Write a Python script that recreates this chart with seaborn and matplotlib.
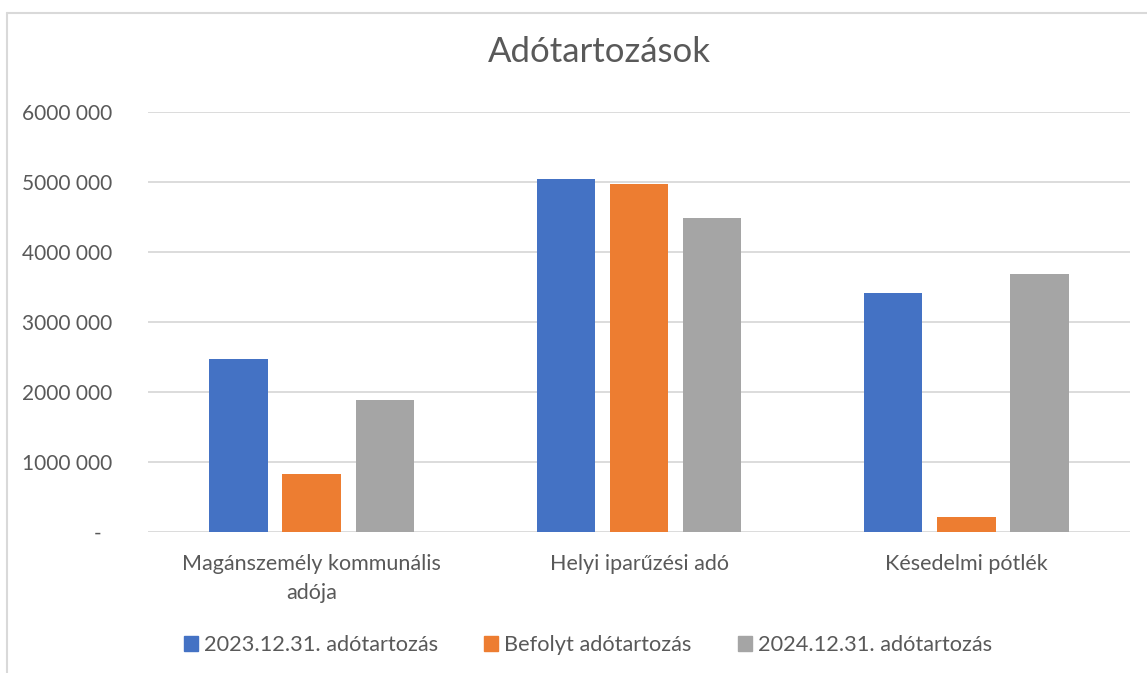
import pandas as pd
import seaborn as sns
import matplotlib.pyplot as plt
from matplotlib.lines import Line2D

# --- data ---
categories = ["Magánszemély kommunális\nadója", "Helyi iparűzési adó", "Késedelmi pótlék"]
series = ["2023.12.31. adótartozás", "Befolyt adótartozás", "2024.12.31. adótartozás"]
debt_2023 = [2465000, 5047000, 3410000]
collected = [830000, 4976000, 210000]
debt_2024 = [1886000, 4490000, 3680000]
y_ticks = [0, 1000000, 2000000, 3000000, 4000000, 5000000, 6000000]
y_tick_labels = ["-  ", "1000 000", "2000 000", "3000 000", "4000 000", "5000 000", "6000 000"]

colors = ["#4472C4", "#ED7D31", "#A5A5A5"]
text_col = "#595959"
grid_col = "#D9D9D9"

rows = []
for s, vals in zip(series, [debt_2023, collected, debt_2024]):
    for c, v in zip(categories, vals):
        rows.append({"Kategória": c, "Sorozat": s, "Érték": v})
df = pd.DataFrame(rows)

sns.set_theme(style="white")
plt.rcParams['font.family'] = ['Lato', 'DejaVu Sans']

fig = plt.figure(figsize=(11.47, 6.73), dpi=100)
ax = fig.add_axes([148 / 1147, 1 - 532 / 673, (1130 - 148) / 1147, (532 - 112) / 673])

sns.barplot(data=df, x="Kategória", y="Érték", hue="Sorozat", order=categories,
            hue_order=series, palette=colors, saturation=1, width=0.67, gap=0.2,
            edgecolor="none", ax=ax, legend=False, zorder=3)

ax.set_xlim(-0.5, 2.5)
ax.set_ylim(0, 6000000)
ax.set_yticks(y_ticks)
ax.set_yticklabels(y_tick_labels, fontsize=15, color=text_col)
ax.tick_params(axis='x', labelsize=15.5, colors=text_col, length=0, pad=16)
ax.tick_params(axis='y', length=0, pad=26)
for lbl in ax.get_xticklabels():
    lbl.set_linespacing(1.55)
ax.set_xlabel("")
ax.set_ylabel("")
ax.yaxis.grid(True, color=grid_col, linewidth=1.3, zorder=0)
ax.set_axisbelow(True)
for sp in ax.spines.values():
    sp.set_visible(False)

fig.text(599 / 1147, 1 - 52 / 673, "Adótartozások", ha="center", va="center",
         fontsize=25, color=text_col)

handles = [plt.Rectangle((0, 0), 1, 1, color=c) for c in colors]
fig.legend(handles, series, loc="center", bbox_to_anchor=(588 / 1147, 1 - 645 / 673),
           ncol=3, frameon=False, fontsize=15.7, labelcolor=text_col,
           handlelength=0.65, handleheight=0.65, handletextpad=0.28, columnspacing=2.1)

# chart frame
fig.add_artist(Line2D([7 / 1147, 1], [1 - 13 / 673, 1 - 13 / 673], color=grid_col, lw=1.5))
fig.add_artist(Line2D([7 / 1147, 7 / 1147], [0, 1 - 13 / 673], color=grid_col, lw=1.5))

fig.savefig("out.png", dpi=100, facecolor="white")
